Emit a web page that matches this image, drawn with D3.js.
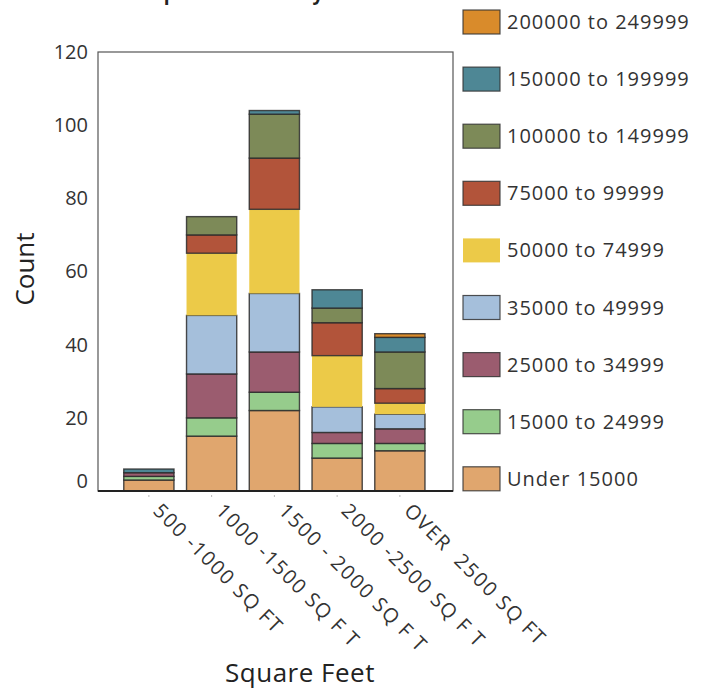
<!DOCTYPE html>
<html>
<head>
<meta charset="utf-8">
<script src="https://cdn.jsdelivr.net/npm/d3@7/dist/d3.min.js"></script>
<style>
  html, body { margin: 0; padding: 0; background: #fff; }
  svg { display: block; font-family: "Open Sans", sans-serif; }
</style>
</head>
<body>
<svg id="chart" width="705" height="690"></svg>
<script>
// ---- Data ----
const categories = ["500 -1000 SQ FT", "1000 -1500 SQ F T", "1500 - 2000 SQ F T", "2000 -2500 SQ F T", "OVER  2500 SQ FT"];
const seriesNames = ["Under 15000", "15000 to 24999", "25000 to 34999", "35000 to 49999", "50000 to 74999",
                     "75000 to 99999", "100000 to 149999", "150000 to 199999", "200000 to 249999"];
const seriesColors = ["#e0a66e", "#96cc8c", "#9b5c6f", "#a5bfdb", "#ecca48", "#b2543a", "#7d8a58", "#4e8795", "#d98b2b"];
const under15000   = [3, 15, 22, 9, 11];
const inc15to25    = [1, 5, 5, 4, 2];
const inc25to35    = [1, 12, 11, 3, 4];
const inc35to50    = [0, 16, 16, 7, 4];
const inc50to75    = [0, 17, 23, 14, 3];
const inc75to100   = [0, 5, 14, 9, 4];
const inc100to150  = [0, 5, 12, 4, 10];
const inc150to200  = [1, 0, 1, 5, 4];
const inc200to250  = [0, 0, 0, 0, 1];
const yTicks = [0, 20, 40, 60, 80, 100, 120];
const titleText = "Income Group Distribution by";

const seriesValues = [under15000, inc15to25, inc25to35, inc35to50, inc50to75, inc75to100, inc100to150, inc150to200, inc200to250];

// ---- Build table ----
const table = categories.map((c, i) => {
  const row = { cat: c };
  seriesNames.forEach((s, j) => row[s] = seriesValues[j][i]);
  return row;
});
const stacked = d3.stack().keys(seriesNames)(table);

const svg = d3.select("#chart");
const plot = { left: 98, right: 453, top: 52, bottom: 491 };

const x = d3.scaleBand().domain(categories).range([117.5, 431.25]).paddingInner(0.2).paddingOuter(0.1);
const y = d3.scaleLinear().domain([0, 120]).range([plot.bottom, plot.top]);
const color = d3.scaleOrdinal().domain(seriesNames).range(seriesColors);

// title (mostly clipped off the top, as in the reference)
svg.append("text")
  .attr("x", 42).attr("y", 0)
  .attr("font-size", 19).attr("font-weight", "bold").attr("fill", "#222")
  .text(titleText);

// frame
svg.append("rect")
  .attr("x", plot.left).attr("y", plot.top)
  .attr("width", plot.right - plot.left).attr("height", plot.bottom - plot.top)
  .attr("fill", "none").attr("stroke", "#555").attr("stroke-width", 1.2);

// bars
svg.append("g").selectAll("g").data(stacked).join("g")
  .attr("fill", d => color(d.key))
  .attr("stroke", d => d.key === "50000 to 74999" ? "none" : "#2b2b2b")
  .attr("stroke-opacity", 0.85)
  .attr("stroke-width", 1.4)
  .selectAll("rect").data(d => d.filter(p => p[1] - p[0] > 0)).join("rect")
  .attr("x", d => x(d.data.cat))
  .attr("width", x.bandwidth())
  .attr("y", d => y(d[1]))
  .attr("height", d => y(d[0]) - y(d[1]));

// bottom axis line
svg.append("line")
  .attr("x1", plot.left).attr("x2", plot.right)
  .attr("y1", plot.bottom).attr("y2", plot.bottom)
  .attr("stroke", "#222").attr("stroke-width", 2);

// y axis
const yAxis = svg.append("g")
  .attr("transform", `translate(${plot.left},0)`)
  .call(d3.axisLeft(y).tickValues(yTicks).tickSize(0).tickPadding(10));
yAxis.select(".domain").remove();
yAxis.selectAll("text")
  .attr("font-family", "'Open Sans', sans-serif")
  .attr("font-size", 20).attr("fill", "#333")
  .attr("dy", d => d === 0 ? "-0.2em" : "0.32em");

// x axis ticks + labels
const xAxis = svg.append("g")
  .attr("transform", `translate(0,${plot.bottom})`)
  .call(d3.axisBottom(x).tickSize(4).tickFormat(""));
xAxis.select(".domain").remove();
xAxis.selectAll("line").attr("stroke", "#bbb").attr("y1", 4).attr("y2", 6);

svg.append("g").selectAll("text").data(categories).join("text")
  .attr("transform", d => `translate(${x(d) + x.bandwidth() / 2 + 8},507) rotate(45)`)
  .attr("dy", "0.35em")
  .attr("font-size", 20).attr("letter-spacing", "1.6px").attr("fill", "#333")
  .attr("text-anchor", "start")
  .style("white-space", "pre")
  .text(d => d);

// axis titles
svg.append("text")
  .attr("x", 300).attr("y", 682)
  .attr("text-anchor", "middle").attr("font-size", 26).attr("letter-spacing", "0.5px").attr("fill", "#222")
  .text("Square Feet");
svg.append("text")
  .attr("transform", "translate(34,269) rotate(-90)")
  .attr("text-anchor", "middle").attr("font-size", 26).attr("fill", "#222")
  .text("Count");

// legend (reverse order, top is highest income)
const legendItems = seriesNames.slice().reverse();
const lg = svg.append("g").selectAll("g").data(legendItems).join("g")
  .attr("transform", (d, i) => `translate(463,${22 + i * 57.1})`);
lg.append("rect")
  .attr("x", 0).attr("y", -12).attr("width", 37).attr("height", 24)
  .attr("fill", d => color(d))
  .attr("stroke", d => d === "50000 to 74999" ? "none" : "#333")
  .attr("stroke-opacity", 0.85).attr("stroke-width", 1.2);
lg.append("text")
  .attr("x", 44).attr("y", 0).attr("dy", "0.35em")
  .attr("font-size", 20).attr("letter-spacing", "1px").attr("fill", "#333")
  .text(d => d);
</script>
</body>
</html>
